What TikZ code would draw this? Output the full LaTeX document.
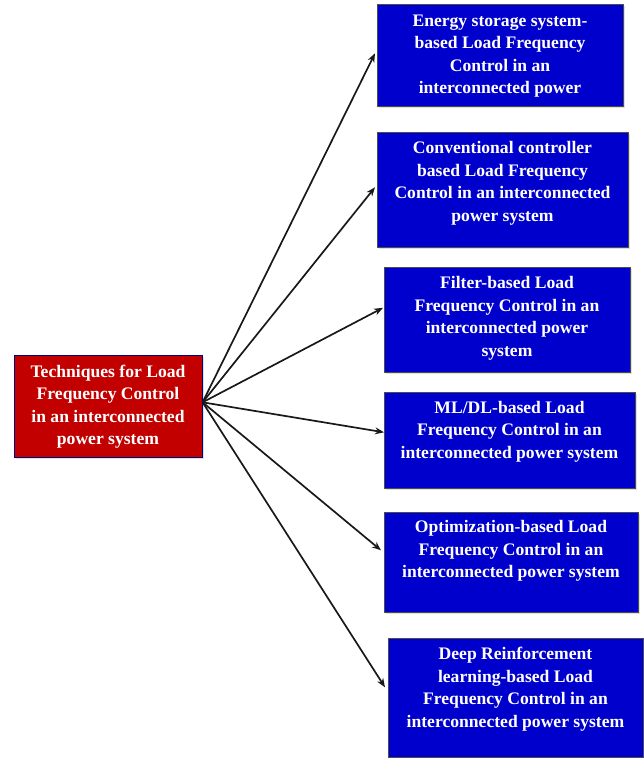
\documentclass[tikz,border=0pt]{standalone}
\usepackage{fontspec}
\setmainfont{Liberation Serif}
\usetikzlibrary{arrows.meta,shadows}
\definecolor{boxblue}{RGB}{0,0,204}
\definecolor{boxred}{RGB}{194,0,0}
\tikzset{
  bluebox/.style={fill=boxblue, draw=black!70, line width=0.6pt, anchor=north west, inner sep=0pt,
    drop shadow={shadow xshift=1.2pt, shadow yshift=-1.5pt, opacity=0.25}},
  redbox/.style={fill=boxred, draw=black!50!blue, line width=0.6pt, anchor=north west, inner sep=0pt,
    drop shadow={shadow xshift=1.2pt, shadow yshift=-1.5pt, opacity=0.25}},
  boxtext/.style={text=white, align=center, inner sep=0pt, font=\fontsize{17.6}{22.5}\selectfont\bfseries},
  conn/.style={draw=black!90, line width=1.7pt, -{Stealth[length=9pt,width=7pt]}}
}
\begin{document}
\begin{tikzpicture}[x=1pt,y=-1pt]
\useasboundingbox (0,0) rectangle (644,758);
% source
\node[redbox, minimum width=188pt, minimum height=102pt] (src) at (14,355) {};
\node[boxtext] (srct) at (108,406.5) {Techniques for Load\\Frequency Control\\in an interconnected\\power system};
% targets
\node[bluebox, minimum width=246pt, minimum height=102pt] (b1) at (377,4) {};
\node[boxtext] (t1) at (500,56) {Energy storage system-\\based Load Frequency\\Control in an\\interconnected power};
\node[bluebox, minimum width=251pt, minimum height=115pt] (b2) at (377,132) {};
\node[boxtext] (t2) at (502.5,183.5) {Conventional controller\\based Load Frequency\\Control in an interconnected\\power system};
\node[bluebox, minimum width=246pt, minimum height=105pt] (b3) at (384,267) {};
\node[boxtext] (t3) at (507,318.5) {Filter-based Load\\Frequency Control in an\\interconnected power\\system};
\node[bluebox, minimum width=251pt, minimum height=96pt] (b4) at (384,392) {};
\node[boxtext] (t4) at (509.5,431.5) {ML/DL-based Load\\Frequency Control in an\\interconnected power system};
\node[bluebox, minimum width=254pt, minimum height=100pt] (b5) at (384,512) {};
\node[boxtext] (t5) at (511,551) {Optimization-based Load\\Frequency Control in an\\interconnected power system};
\node[bluebox, minimum width=255pt, minimum height=119pt] (b6) at (388,638) {};
\node[boxtext] (t6) at (515.5,689) {Deep Reinforcement\\learning-based Load\\Frequency Control in an\\interconnected power system};
% connectors
\coordinate (o) at ([yshift=4pt]src.east);
\draw[conn] (o) -- ([xshift=-2pt,yshift=2pt]b1.west);
\draw[conn] (o) -- ([xshift=-2pt,yshift=2.5pt]b2.west);
\draw[conn] (o) -- ([xshift=-1pt,yshift=12pt]b3.west);
\draw[conn] (o) -- ([xshift=0pt,yshift=8pt]b4.west);
\draw[conn] (o) -- ([xshift=-3pt,yshift=12pt]b5.west);
\draw[conn] (o) -- ([xshift=-3pt,yshift=10.5pt]b6.west);
\end{tikzpicture}
\end{document}
